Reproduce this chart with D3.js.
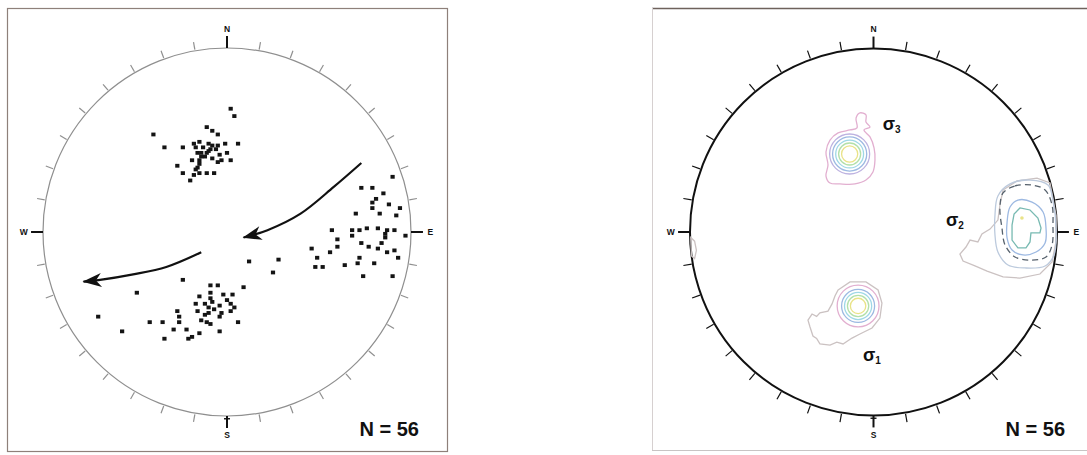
<!DOCTYPE html>
<html>
<head>
<meta charset="utf-8">
<script src="https://cdn.jsdelivr.net/npm/d3@7"></script>
<style>
  body { margin: 0; background: #fff; }
  svg { display: block; }
</style>
</head>
<body>
<svg id="fig" width="1087" height="455"></svg>
<script>
// Poles plotted on a lower-hemisphere net; units: primitive radius = 100, x to E, y to N.
const polesNorth = [
  [2,67],[4,63],[-11,57],[-8,55],[-5,53],[-40,53],[-34,46],[-24,46],[-18,48],[-15,49],
  [-10,48],[-5,47],[-1,48],[6,48],[-16,43],[-14,43],[-11,43],[-4,42],[0,43],[-19,39],
  [-15,39],[-8,40],[-3,39],[2,39],[-27,36],[-16,35],[-5,38],[-24,32],[-18,31],[-15,32],
  [-11,32],[-7,32],[-20,28],[-13,46],[-12,41],[-9,45],[-15,37],[-8,47],[-17,46],[-17,34],
  [-14,41],[-10,44],[-6,45]
];
const polesEast = [
  [90,30],[73,24],[79,24],[85,21],[79,16],[88,15],[94,13],[79,13],[83,10],[70,10],
  [92,9],[57,1],[68,1],[72,1],[76,2],[82,2],[87,1],[91,1],[97,-2],[86,-3],
  [68,-2],[60,-4],[73,-6],[77,-8],[82,-9],[87,-11],[91,-10],[93,-14],[46,-9],[60,-8],
  [56,-11],[49,-14],[72,-14],[71,-17],[64,-18],[80,-17],[48,-19],[52,-19],[74,-24],[90,-24],
  [28,-15],[12,-16],[25,-22],[81,18],[86,-1],[84,-6]
];
const polesSouth = [
  [-24,-26],[-9,-29],[-5,-29],[9,-30],[-49,-33],[-15,-35],[-9,-33],[-2,-34],[3,-34],[-12,-39],
  [-10,-41],[-8,-38],[-4,-40],[2,-39],[4,-41],[-17,-39],[-27,-43],[-16,-43],[-10,-44],[-3,-44],
  [2,-43],[-26,-46],[-14,-48],[-11,-49],[-9,-50],[-4,-46],[6,-49],[-70,-46],[-42,-49],[-35,-49],
  [-29,-53],[-22,-53],[-15,-55],[-4,-54],[-21,-58],[-19,-57],[-34,-58],[-57,-54],[-9,-36],[-7,-42],
  [0,-37],[-12,-45],[-26,-49]
];
// Sense-of-rotation arrows
const arrowUpper = [[73,37.5],[58,24.5],[40,10],[22,1],[9,-3]];
const arrowLower = [[-14,-11],[-33,-19],[-51,-23],[-69,-26],[-78,-27]];

// Density contours (same units). Level 0 = lowest.
const levelColors = ["#cbc2c2", "#e2afd0", "#bdb2e0", "#9db9e2", "#9fd8e6", "#b3e0aa", "#e9e388"];
const sigma3Center = [-13, 42.5];
const sigma3Radii = [[6,4.4],[5,6.0],[4,7.6],[3,9.3],[2,10.9]];
const sigma3Outer = [[-12.8,55.6],[-9.0,56.7],[-9.5,62.1],[-7.4,64.9],[-4.1,63.8],[-4.1,59.9],[-1.9,57.2],
  [-5.2,55.6],[-1.9,51.8],[0.3,45.8],[0.8,39.2],[-0.3,32.7],[-4.1,28.3],[-10.1,26.2],[-18.3,26.2],
  [-23.7,26.7],[-25.9,30.5],[-24.8,36.5],[-25.9,43.6],[-23.7,50.1],[-19.3,54.0]];
const sigma1Center = [-8.4, -40.3];
const sigma1Radii = [[6,4.2],[5,5.8],[4,7.4],[3,9.0],[1,11.4]];
const sigma1Outer = [[-19.3,-31.6],[-12.8,-27.2],[-4.1,-27.2],[2.5,-31.6],[4.6,-38.7],[3.5,-46.9],
  [-0.8,-52.3],[-7.4,-55.6],[-11.7,-57.8],[-16.6,-61.0],[-20,-60],[-23.7,-61.6],[-29.2,-61.0],
  [-31,-58],[-33.0,-56.7],[-34.6,-51.8],[-35.7,-48.0],[-33.5,-44.7],[-31,-46],[-29.2,-44.1],
  [-24.8,-43.1],[-22.6,-39.2],[-21.0,-34.9]];
const sigma2Outer = [[70.6,22.9],[78.2,27.8],[89.1,29.4],[96.2,26.7],[99.5,9.0],[99.6,-4.4],[97.3,-16.3],
  [90.7,-22.9],[79.8,-25.1],[70.6,-24.5],[61.9,-21.3],[55.3,-18.5],[48.8,-15.8],[47.1,-12.0],
  [50.4,-8.2],[52.6,-4.4],[56.9,-5.4],[59.1,-1.1],[63.5,1.6],[67.8,6.5],[68.9,14.7]];
const sigma2Wrap = [[-99.6,-3],[-97.5,-5],[-96.5,-10],[-97.5,-14.5],[-99.2,-13]];
const sigma2Level2 = [[67.8,19.6],[74.4,26.2],[85.3,28.3],[95.1,25.6],[97.8,17.2],[99.5,1.1],[98.4,-12.5],
  [93.5,-18.5],[82.6,-19.6],[73.3,-18.0],[67.8,-10.9],[66.2,-1.6],[66.2,9.3]];
const sigma2Dashed = [[70.6,21.3],[77.1,25.1],[86.4,25.6],[93.5,22.9],[97.3,14.7],[97.8,3.8],[97.3,-7.1],
  [94.0,-13.6],[85.3,-15.3],[77.1,-13.6],[71.7,-7.1],[70.0,2.2],[68.9,13.1]];
const sigma2Level4 = [[78.7,17.4],[86.4,16.3],[92.4,10.9],[94.0,2.2],[93.5,-6.0],[88.6,-10.9],
  [81.5,-12.5],[75.5,-9.8],[72.8,-3.3],[72.8,5.4],[74.4,13.6]];
const sigma2Level5 = [[79.8,13.1],[85.3,12.0],[89.6,7.6],[91.3,2.2],[90.7,-0.5],[85.8,-0.5],[85.3,-5.4],
  [83.1,-8.7],[78.7,-8.7],[75.5,-4.4],[75.5,3.8],[76.6,9.8]];
const sigma2Peak = [80.9, 7.6];

const stressLabels = [
  { sym: "σ", sub: "3", at: [5, 55.6] },
  { sym: "σ", sub: "2", at: [39.5, 3.3] },
  { sym: "σ", sub: "1", at: [-5.7, -70.3] }
];
const compassAzimuths = d3.range(0, 360, 10);
const cardinals = [{ az: 0, text: "N" }, { az: 90, text: "E" }, { az: 180, text: "S" }, { az: 270, text: "W" }];
const countLabel = "N = 56";

const svg = d3.select("#fig");
const rad = Math.PI / 180;

// Frames
svg.append("rect").attr("x", 7.5).attr("y", 8.5).attr("width", 440).attr("height", 443)
  .attr("fill", "none").attr("stroke", "#8e807a").attr("stroke-width", 1.2);
svg.append("line").attr("x1", 652).attr("x2", 1087).attr("y1", 8.5).attr("y2", 8.5)
  .attr("stroke", "#6e625c").attr("stroke-width", 1.5);
svg.append("line").attr("x1", 652.5).attr("x2", 652.5).attr("y1", 8).attr("y2", 450)
  .attr("stroke", "#d6d0d0").attr("stroke-width", 1);
svg.append("line").attr("x1", 652).attr("x2", 1087).attr("y1", 450.5).attr("y2", 450.5)
  .attr("stroke", "#c8c4c4").attr("stroke-width", 1);

function drawNet(cx, cy, R, ink, circleWidth, tickColor, tickLen) {
  const g = svg.append("g");
  const x = d3.scaleLinear().domain([-100, 100]).range([cx - R, cx + R]);
  const y = d3.scaleLinear().domain([-100, 100]).range([cy + R, cy - R]);
  const pt = (az, r) => [x(r * Math.sin(az * rad)), y(r * Math.cos(az * rad))];

  g.append("circle").attr("cx", x(0)).attr("cy", y(0)).attr("r", x(100) - x(0))
    .attr("fill", "none").attr("stroke", ink).attr("stroke-width", circleWidth);

  g.selectAll("line.tick").data(compassAzimuths.filter(a => a % 90 !== 0)).join("line")
    .attr("class", "tick")
    .attr("x1", d => pt(d, 100.6)[0]).attr("y1", d => pt(d, 100.6)[1])
    .attr("x2", d => pt(d, 100.6 + tickLen)[0]).attr("y2", d => pt(d, 100.6 + tickLen)[1])
    .attr("stroke", tickColor).attr("stroke-width", 1.2);

  g.selectAll("line.card").data(cardinals).join("line")
    .attr("class", "card")
    .attr("x1", d => pt(d.az, 100)[0]).attr("y1", d => pt(d.az, 100)[1])
    .attr("x2", d => pt(d.az, 106.5)[0]).attr("y2", d => pt(d.az, 106.5)[1])
    .attr("stroke", "#111").attr("stroke-width", 2);
  // crossbar on the south mark
  const s = pt(180, 101.5);
  g.append("line").attr("x1", s[0] - 3).attr("x2", s[0] + 3).attr("y1", s[1]).attr("y2", s[1])
    .attr("stroke", "#111").attr("stroke-width", 1.4);

  g.selectAll("text.card").data(cardinals).join("text")
    .attr("class", "card")
    .attr("x", d => pt(d.az, 110.5)[0]).attr("y", d => pt(d.az, 110.5)[1])
    .attr("text-anchor", "middle").attr("dominant-baseline", "central")
    .attr("font-family", "Liberation Sans, Arial, sans-serif").attr("font-weight", "bold")
    .attr("font-size", 8.5).attr("fill", "#111").text(d => d.text);

  g.append("text").attr("x", x(72)).attr("y", y(-111))
    .attr("font-family", "Liberation Sans, Arial, sans-serif").attr("font-weight", "bold")
    .attr("font-size", 20).attr("fill", "#111").text(countLabel);
  return { g, x, y };
}

// ---- Left: pole plot with rotation arrows
const L = drawNet(227, 232, 184, "#8f8f8f", 1.2, "#8f8f8f", 4.2);
const allPoles = [polesNorth, polesEast, polesSouth];
allPoles.forEach(set => {
  L.g.append("g").selectAll("rect").data(set).join("rect")
    .attr("x", d => L.x(d[0]) - 2.1).attr("y", d => L.y(d[1]) - 1.9)
    .attr("width", 4.2).attr("height", 3.8).attr("fill", "#141414");
});

const defs = svg.append("defs");
defs.append("marker").attr("id", "head").attr("viewBox", "-19 -8 21 16")
  .attr("refX", 0).attr("refY", 0).attr("markerWidth", 21).attr("markerHeight", 16)
  .attr("markerUnits", "userSpaceOnUse").attr("orient", "auto")
  .append("path").attr("d", "M1,0 L-18,-7 L-12.5,0 L-18,7 Z").attr("fill", "#111");

const arrowLine = d3.line().x(d => L.x(d[0])).y(d => L.y(d[1])).curve(d3.curveCatmullRom.alpha(0.5));
[arrowUpper, arrowLower].forEach(a => {
  L.g.append("path").attr("d", arrowLine(a)).attr("fill", "none")
    .attr("stroke", "#111").attr("stroke-width", 2.2).attr("marker-end", "url(#head)");
});

// ---- Right: contoured density
const Rn = drawNet(873.5, 232, 183.5, "#111", 2, "#111", 4.6);
const cLine = d3.line().x(d => Rn.x(d[0])).y(d => Rn.y(d[1])).curve(d3.curveCatmullRomClosed.alpha(0.5));
const linLine = d3.line().x(d => Rn.x(d[0])).y(d => Rn.y(d[1])).curve(d3.curveLinearClosed);
const cg = Rn.g.append("g").attr("fill", "none").attr("stroke-width", 1.3);

function rings(center, list) {
  cg.selectAll(null).data(list).join("circle")
    .attr("cx", Rn.x(center[0])).attr("cy", Rn.y(center[1]))
    .attr("r", d => Rn.x(d[1]) - Rn.x(0))
    .attr("stroke", d => levelColors[d[0]]);
}
// sigma 3
cg.append("path").attr("d", cLine(sigma3Outer)).attr("stroke", levelColors[1]);
rings(sigma3Center, sigma3Radii);
// sigma 1
cg.append("path").attr("d", linLine(sigma1Outer)).attr("stroke", levelColors[0]);
rings(sigma1Center, sigma1Radii);
// sigma 2
cg.append("path").attr("d", linLine(sigma2Outer)).attr("stroke", levelColors[0]);
cg.append("path").attr("d", linLine(sigma2Wrap)).attr("stroke", levelColors[0]);
cg.append("path").attr("d", cLine(sigma2Level2)).attr("stroke", "#bccadd");
cg.append("path").attr("d", cLine(sigma2Dashed)).attr("stroke", "#56616c").attr("stroke-dasharray", "6,4");
cg.append("path").attr("d", cLine(sigma2Level4)).attr("stroke", levelColors[3]);
cg.append("path").attr("d", linLine(sigma2Level5)).attr("stroke", "#78bab2");
cg.append("circle").attr("cx", Rn.x(sigma2Peak[0])).attr("cy", Rn.y(sigma2Peak[1])).attr("r", 1.8)
  .attr("fill", levelColors[6]).attr("stroke", "none");

const lab = Rn.g.selectAll("text.sig").data(stressLabels).join("text")
  .attr("class", "sig")
  .attr("x", d => Rn.x(d.at[0])).attr("y", d => Rn.y(d.at[1]))
  .attr("font-family", "Liberation Sans, Arial, sans-serif").attr("font-weight", "bold")
  .attr("font-size", 18).attr("fill", "#111");
lab.append("tspan").text(d => d.sym);
lab.append("tspan").attr("dy", 3).attr("font-size", 10).text(d => d.sub);
</script>
</body>
</html>
